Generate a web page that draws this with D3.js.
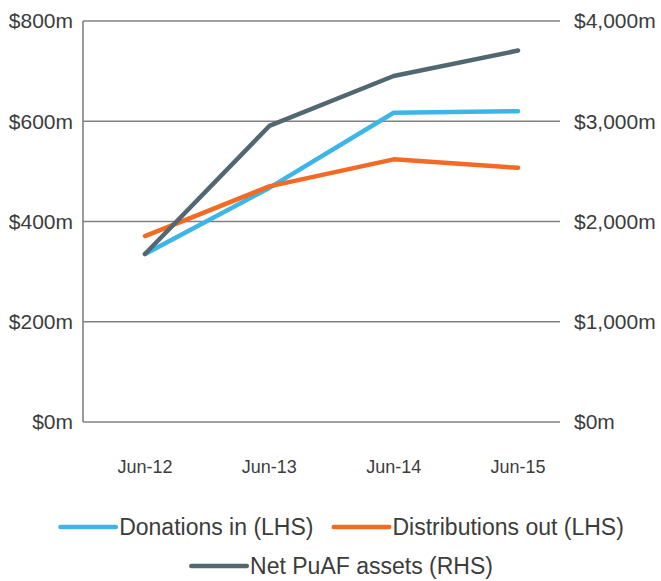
<!DOCTYPE html>
<html>
<head>
<meta charset="utf-8">
<script src="https://cdn.jsdelivr.net/npm/d3@7"></script>
<style>
  body { margin: 0; background: #fff; }
  svg text { font-family: "Liberation Sans", Arial, sans-serif; fill: #3c3c3c; }
</style>
</head>
<body>
<div id="chart"></div>
<script>
// ========== Data ==========
const categories = ["Jun-12", "Jun-13", "Jun-14", "Jun-15"];
const donations = [335, 467, 617, 620];        // LHS, $m
const distributions = [371, 470, 524, 507];    // LHS, $m
const netAssets = [1676, 2953, 3451, 3705];    // RHS, $m
const leftTicks = [0, 200, 400, 600, 800];
const rightTicks = [0, 1000, 2000, 3000, 4000];

const series = [
    { name: "Donations in (LHS)", values: donations, axis: "left", color: "#3db6e7" },
    { name: "Distributions out (LHS)", values: distributions, axis: "left", color: "#f26a23" },
    { name: "Net PuAF assets (RHS)", values: netAssets, axis: "right", color: "#516873" }
];

// ========== Layout ==========
const width = 661, height = 581;
const plot = { left: 83, right: 560, top: 21, bottom: 422 };

const svg = d3.select("#chart").append("svg")
    .attr("width", width)
    .attr("height", height);

const x = d3.scalePoint()
    .domain(categories)
    .range([plot.left + 62, plot.right - 42]);

const yLeft = d3.scaleLinear().domain([0, 800]).range([plot.bottom, plot.top]);
const yRight = d3.scaleLinear().domain([0, 4000]).range([plot.bottom, plot.top]);

// Gridlines
svg.append("g")
    .selectAll("line")
    .data(leftTicks)
    .enter().append("line")
    .attr("x1", plot.left)
    .attr("x2", plot.right)
    .attr("y1", d => yLeft(d))
    .attr("y2", d => yLeft(d))
    .attr("stroke", "#808080")
    .attr("stroke-width", 1.6);

// Left vertical axis line
svg.append("line")
    .attr("x1", plot.left).attr("x2", plot.left)
    .attr("y1", plot.top).attr("y2", plot.bottom)
    .attr("stroke", "#808080")
    .attr("stroke-width", 1.6);

// Left labels
svg.append("g")
    .selectAll("text")
    .data(leftTicks)
    .enter().append("text")
    .attr("x", plot.left - 10)
    .attr("y", d => yLeft(d))
    .attr("dy", "0.35em")
    .attr("text-anchor", "end")
    .attr("font-size", 21)
    .text(d => "$" + d + "m");

// Right labels
svg.append("g")
    .selectAll("text")
    .data(rightTicks)
    .enter().append("text")
    .attr("x", plot.right + 14)
    .attr("y", d => yRight(d))
    .attr("dy", "0.35em")
    .attr("text-anchor", "start")
    .attr("font-size", 21)
    .text(d => "$" + d3.format(",")(d) + "m");

// X labels
svg.append("g")
    .selectAll("text")
    .data(categories)
    .enter().append("text")
    .attr("x", d => x(d))
    .attr("y", 467)
    .attr("dy", "0.35em")
    .attr("text-anchor", "middle")
    .attr("font-size", 18)
    .text(d => d);

// Lines
series.forEach(s => {
    const yScale = s.axis === "left" ? yLeft : yRight;
    const line = d3.line()
        .x((d, i) => x(categories[i]))
        .y(d => yScale(d));
    svg.append("path")
        .datum(s.values)
        .attr("d", line)
        .attr("fill", "none")
        .attr("stroke", s.color)
        .attr("stroke-width", 4.5)
        .attr("stroke-linecap", "round")
        .attr("stroke-linejoin", "round");
});

// ========== Legend ==========
const legendRows = [[series[0], series[1]], [series[2]]];
const rowY = [527, 566];
const swatch = 60, swGap = 1, itemGap = 18, legendCenter = 341;

legendRows.forEach((row, r) => {
    const g = svg.append("g");
    let cx = 0;
    row.forEach((s, i) => {
        if (i > 0) cx += itemGap;
        g.append("line")
            .attr("x1", cx + 2.25).attr("x2", cx + swatch - 2.25)
            .attr("y1", rowY[r]).attr("y2", rowY[r])
            .attr("stroke", s.color)
            .attr("stroke-width", 4.5)
            .attr("stroke-linecap", "round");
        cx += swatch + swGap;
        const t = g.append("text")
            .attr("x", cx)
            .attr("y", rowY[r])
            .attr("dy", "0.35em")
            .attr("font-size", 23)
            .text(s.name);
        cx += t.node().getComputedTextLength();
    });
    g.attr("transform", `translate(${legendCenter - cx / 2},0)`);
});
</script>
</body>
</html>
